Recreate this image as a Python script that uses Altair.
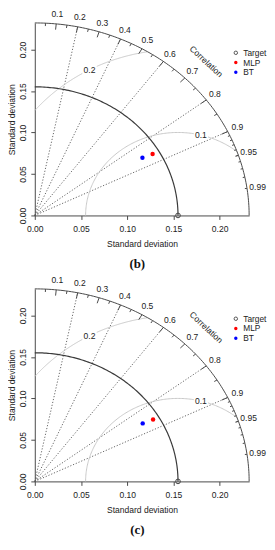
import math
import altair as alt
import numpy as np
import pandas as pd

# ---------------- data ----------------
MAX_SD = 0.232          # radius of the outer (correlation) arc
REF_SD = 0.155          # standard deviation of the target
SD_TICKS = [0.00, 0.05, 0.10, 0.15, 0.20]
CORR_LINES = [0.2, 0.4, 0.6, 0.8, 0.9]
CORR_LABELS = [0.1, 0.2, 0.3, 0.4, 0.5, 0.6, 0.7, 0.8, 0.9, 0.95, 0.99]
CORR_BIG_TICKS = [0.1, 0.2, 0.3, 0.4, 0.5, 0.6, 0.7, 0.8, 0.9]
CORR_MED_TICKS = [0.05, 0.15, 0.25, 0.35, 0.45, 0.55, 0.65, 0.75, 0.85, 0.95]
CORR_SMALL_TICKS = [0.91, 0.92, 0.93, 0.94, 0.95, 0.96, 0.97, 0.98, 0.99]
GAMMAS = [0.1, 0.2]
GAMMA_LABEL_INDEX = [45, 70]
MODELS = ["MLP", "BT"]
MODEL_COLORS = ["#ff0000", "#0000ff"]
PANEL_B_SD = [0.1474, 0.1357]
PANEL_B_COR = [0.865, 0.8585]
PANEL_C_SD = [0.1482, 0.1361]
PANEL_C_COR = [0.864, 0.858]
LEGEND_LABELS = ["Target", "MLP", "BT"]
PANEL_LABELS = ["(b)", "(c)"]

# ---------------- layout ----------------
PX_X = 933.0
PX_Y = 836.0
W = round(MAX_SD * PX_X)
H = round(MAX_SD * PX_Y)
FONT = "Liberation Sans"
DARK = "#4a4a4a"
TXT = "#222222"

sx = alt.Scale(domain=[0, MAX_SD], nice=False, zero=False)
sy = alt.Scale(domain=[0, MAX_SD], nice=False, zero=False)
ax_x = alt.Axis(values=SD_TICKS, format=".2f", title="Standard deviation", grid=False,
                tickSize=4, labelPadding=5, titlePadding=7, labelFlush=False,
                labelOverlap=False)
ax_y = alt.Axis(values=SD_TICKS, format=".2f", title="Standard deviation", grid=False,
                tickSize=4, labelPadding=3, titlePadding=2, labelAngle=270,
                labelFlush=False, labelOverlap=False)


def X(f="x"):
    return alt.X(f, type="quantitative", scale=sx, axis=ax_x)


def Y(f="y"):
    return alt.Y(f, type="quantitative", scale=sy, axis=ax_y)


def arc_rows(name, cx, r, t0, t1, n=120):
    t = np.linspace(t0, t1, n)
    return pd.DataFrame({"arc": name, "i": np.arange(n),
                         "x": cx + r * np.cos(t), "y": r * np.sin(t)})


outer_df = arc_rows("outer", 0.0, MAX_SD, 0, math.pi / 2)
ref_df = arc_rows("ref", 0.0, REF_SD, 0, math.pi / 2)
gam_parts = []
for g in GAMMAS:
    c1 = (MAX_SD ** 2 - REF_SD ** 2 - g ** 2) / (2 * REF_SD * g)
    t0 = math.acos(max(-1.0, min(1.0, c1)))
    t1 = math.acos(max(-1.0, -REF_SD / g))
    gam_parts.append(arc_rows("g%s" % g, REF_SD, g, t0, t1, 150))
gam_df = pd.concat(gam_parts, ignore_index=True)

gam_lab_df = pd.DataFrame({
    "x": [REF_SD + g * math.cos((k - 1) * 0.03) for g, k in zip(GAMMAS, GAMMA_LABEL_INDEX)],
    "y": [g * math.sin((k - 1) * 0.03) for g, k in zip(GAMMAS, GAMMA_LABEL_INDEX)],
    "t": [str(g) for g in GAMMAS],
})

rad_df = pd.DataFrame({
    "x": [0.0] * len(CORR_LINES), "y": [0.0] * len(CORR_LINES),
    "x2": [MAX_SD * c for c in CORR_LINES],
    "y2": [MAX_SD * math.sqrt(1 - c * c) for c in CORR_LINES],
})


def tick_df(cors, frac):
    return pd.DataFrame({
        "x": [MAX_SD * c for c in cors],
        "y": [MAX_SD * math.sqrt(1 - c * c) for c in cors],
        "x2": [frac * MAX_SD * c for c in cors],
        "y2": [frac * MAX_SD * math.sqrt(1 - c * c) for c in cors],
    })


ticks_df = pd.concat([tick_df(CORR_BIG_TICKS, 0.97), tick_df(CORR_MED_TICKS, 0.985),
                      tick_df(CORR_SMALL_TICKS, 0.99)], ignore_index=True)

clab_df = pd.DataFrame({
    "x": [1.05 * MAX_SD * c for c in CORR_LABELS],
    "y": [1.05 * MAX_SD * math.sqrt(1 - c * c) for c in CORR_LABELS],
    "t": [("%g" % c) for c in CORR_LABELS],
})

corr_title_df = pd.DataFrame({"x": [0.8 * MAX_SD], "y": [0.8 * MAX_SD], "t": ["Correlation"]})
target_df = pd.DataFrame({"x": [REF_SD], "y": [0.0]})

LEG_SYM_X = (237 - 34) / PX_X
LEG_TXT_X = (244.5 - 34) / PX_X
LEG_Y = [(212.7 - v) / 853.0 for v in (45.5, 55.5, 65.5)]
leg_txt_df = pd.DataFrame({"x": [LEG_TXT_X] * 3, "y": LEG_Y, "t": LEGEND_LABELS})
leg_target_df = pd.DataFrame({"x": [LEG_SYM_X], "y": [LEG_Y[0]]})
leg_models_df = pd.DataFrame({"x": [LEG_SYM_X] * 2, "y": LEG_Y[1:], "c": MODEL_COLORS})

BOX = "M -1 -0.62 L 1 -0.62 L 1 0.62 L -1 0.62 Z"


def panel(sds, cors, label):
    pts = pd.DataFrame({
        "model": MODELS, "c": MODEL_COLORS,
        "x": [s * c for s, c in zip(sds, cors)],
        "y": [s * math.sqrt(1 - c * c) for s, c in zip(sds, cors)],
    })
    lab = pd.DataFrame({"x": [(137.5 - 34) / PX_X], "y": [-49 / PX_Y], "t": [label]})
    layers = [
        alt.Chart(rad_df).mark_rule(color="#555555", strokeDash=[1.2, 1.8], strokeWidth=0.9)
        .encode(x=X(), y=Y(), x2="x2", y2="y2"),
        alt.Chart(gam_df).mark_line(color="#c9c9c9", strokeWidth=1)
        .encode(x=X(), y=Y(), detail="arc:N", order="i:Q"),
        alt.Chart(gam_lab_df).mark_point(shape=BOX, filled=True, color="white", opacity=1,
                                         size=210, strokeWidth=0)
        .encode(x=X(), y=Y()),
        alt.Chart(gam_lab_df).mark_text(font=FONT, fontSize=8.6, color=TXT)
        .encode(x=X(), y=Y(), text="t:N"),
        alt.Chart(ref_df).mark_line(color="#3a3a3a", strokeWidth=1.2)
        .encode(x=X(), y=Y(), order="i:Q"),
        alt.Chart(outer_df).mark_line(color=DARK, strokeWidth=1)
        .encode(x=X(), y=Y(), order="i:Q"),
        alt.Chart(ticks_df).mark_rule(color=DARK, strokeWidth=1)
        .encode(x=X(), y=Y(), x2="x2", y2="y2"),
        alt.Chart(clab_df).mark_text(font=FONT, fontSize=8.6, color=TXT)
        .encode(x=X(), y=Y(), text="t:N"),
        alt.Chart(corr_title_df).mark_text(font=FONT, fontSize=8.6, color=TXT, angle=43)
        .encode(x=X(), y=Y(), text="t:N"),
        alt.Chart(target_df).mark_point(shape="circle", filled=False, color="#444444",
                                        size=22, strokeWidth=1, opacity=1)
        .encode(x=X(), y=Y()),
        alt.Chart(pts).mark_point(shape="circle", filled=True, size=20, opacity=1)
        .encode(x=X(), y=Y(), color=alt.Color("c:N", scale=None)),
        alt.Chart(leg_target_df).mark_point(shape="circle", filled=False, color="#555555",
                                            size=12, strokeWidth=1, opacity=1)
        .encode(x=X(), y=Y()),
        alt.Chart(leg_models_df).mark_point(shape="circle", filled=True, size=12, opacity=1)
        .encode(x=X(), y=Y(), color=alt.Color("c:N", scale=None)),
        alt.Chart(leg_txt_df).mark_text(font=FONT, fontSize=8.4, color=TXT, align="left")
        .encode(x=X(), y=Y(), text="t:N"),
        alt.Chart(lab).mark_text(font="Liberation Serif", fontSize=13, fontWeight="bold",
                                 color="#111111")
        .encode(x=X(), y=Y(), text="t:N"),
    ]
    return alt.layer(*layers).properties(width=W, height=H)


chart = alt.vconcat(
    panel(PANEL_B_SD, PANEL_B_COR, PANEL_LABELS[0]),
    panel(PANEL_C_SD, PANEL_C_COR, PANEL_LABELS[1]),
    spacing=4,
).properties(padding=0).configure_view(stroke=None).configure_axis(
    domainColor=DARK, tickColor=DARK, labelColor=TXT, titleColor=TXT,
    labelFont=FONT, titleFont=FONT, labelFontSize=8.6, titleFontSize=8.6,
    titleFontWeight="normal",
)

chart.save("out.html", embed_options={"renderer": "svg", "actions": False})
